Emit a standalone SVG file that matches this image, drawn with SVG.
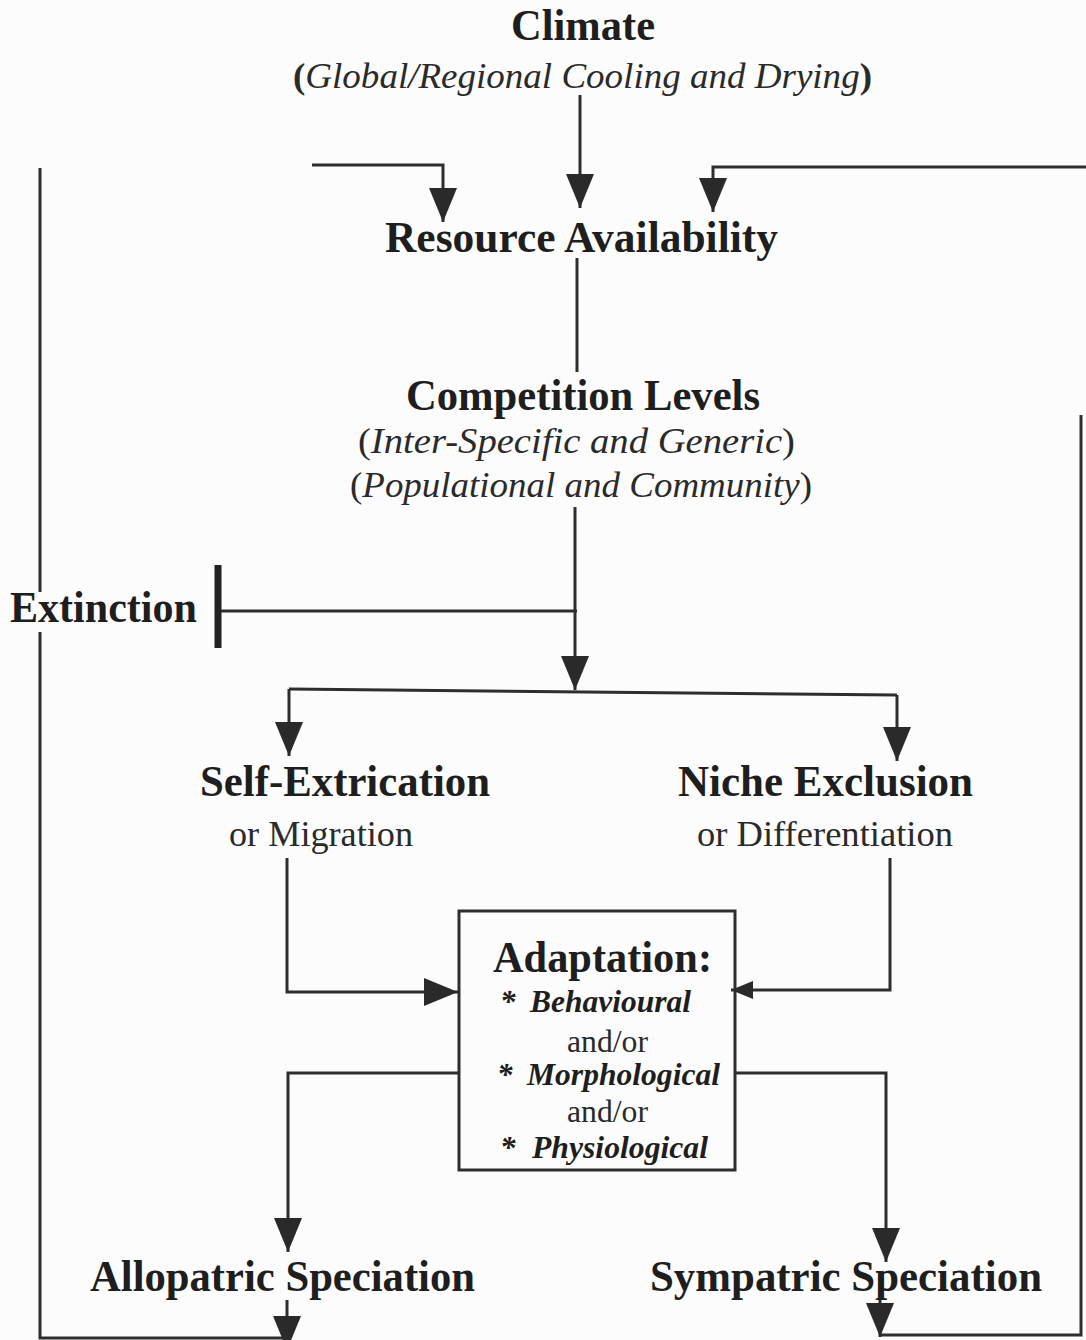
<svg xmlns="http://www.w3.org/2000/svg" width="1086" height="1340" viewBox="0 0 1086 1340">
<defs>
<style>
.b{font-family:"Liberation Serif","Times New Roman",serif;font-weight:bold;font-size:44px;fill:#1e1e1e}
.i{font-family:"Liberation Serif","Times New Roman",serif;font-style:italic;font-size:36px;fill:#2a2a2a}
.r{font-family:"Liberation Serif","Times New Roman",serif;font-size:36px;fill:#2a2a2a}
.bi{font-family:"Liberation Serif","Times New Roman",serif;font-weight:bold;font-style:italic;font-size:31px;fill:#1e1e1e}
.s{font-family:"Liberation Serif","Times New Roman",serif;font-size:31px;fill:#2a2a2a}
.c{fill:none;stroke:#2e2e2e;stroke-width:3}
.a{marker-end:url(#ah)}
</style>
<marker id="ah" markerUnits="userSpaceOnUse" markerWidth="34" markerHeight="30" viewBox="0 0 34 30" refX="34" refY="15" orient="auto">
<path d="M0,1 L34,15 L0,29 z" fill="#2a2a2a"/>
</marker>
<marker id="ahs" markerUnits="userSpaceOnUse" markerWidth="22" markerHeight="20" viewBox="0 0 22 20" refX="22" refY="10" orient="auto">
<path d="M0,1 L22,10 L0,19 z" fill="#2a2a2a"/>
</marker>
</defs>
<rect width="1086" height="1340" fill="#fcfcfc"/>

<g id="connectors">
<path class="c a" d="M580,95 V208"/>
<path class="c a" d="M312,165 H443 V222"/>
<path class="c a" d="M1086,167 H713 V212"/>
<path class="c" d="M40,168 V592 M40,632 V1338 H287"/>
<path class="c" d="M1081,415 V1335 H880"/>
<path class="c" d="M577,258 V372"/>
<path class="c a" d="M575,507 V690"/>
<path class="c" d="M577,611 H218"/>
<path d="M218,565 V648" stroke="#222" stroke-width="7" fill="none"/>
<path class="c" d="M289,689 L897,695"/>
<path class="c a" d="M289,689 V756"/>
<path class="c a" d="M897,695 V761"/>
<path class="c a" d="M287,858 V992 H458"/>
<path class="c" d="M890,858 V990 H750"/>
<path class="c" d="M752,990 H731" marker-end="url(#ahs)"/>
<path class="c a" d="M459,1073 H288 V1252"/>
<path class="c a" d="M735,1073 H886 V1262"/>
<path class="c a" d="M287,1300 V1350"/>
<path class="c a" d="M880,1300 V1337"/>
</g>

<g id="climate">
<text class="b" x="511" y="40" textLength="144" lengthAdjust="spacingAndGlyphs">Climate</text>
<text class="i" x="293" y="88" textLength="579" lengthAdjust="spacingAndGlyphs"><tspan font-style="normal" font-weight="bold">(</tspan>Global/Regional Cooling and Drying<tspan font-style="normal" font-weight="bold">)</tspan></text>
</g>

<g id="resource">
<text class="b" x="385" y="252" textLength="393" lengthAdjust="spacingAndGlyphs">Resource Availability</text>
</g>

<g id="competition">
<text class="b" x="406" y="410" textLength="354" lengthAdjust="spacingAndGlyphs">Competition Levels</text>
<text class="i" x="358" y="453" textLength="437" lengthAdjust="spacingAndGlyphs"><tspan font-style="normal">(</tspan>Inter-Specific and Generic<tspan font-style="normal">)</tspan></text>
<text class="i" x="350" y="497" textLength="462" lengthAdjust="spacingAndGlyphs"><tspan font-style="normal">(</tspan>Populational and Community<tspan font-style="normal">)</tspan></text>
</g>

<g id="extinction">
<text class="b" x="10" y="622" textLength="187" lengthAdjust="spacingAndGlyphs">Extinction</text>
</g>

<g id="self-extrication">
<text class="b" x="200" y="796" textLength="290" lengthAdjust="spacingAndGlyphs">Self-Extrication</text>
<text class="r" x="229" y="846" textLength="184" lengthAdjust="spacingAndGlyphs">or Migration</text>
</g>

<g id="niche-exclusion">
<text class="b" x="678" y="796" textLength="295" lengthAdjust="spacingAndGlyphs">Niche Exclusion</text>
<text class="r" x="697" y="846" textLength="256" lengthAdjust="spacingAndGlyphs">or Differentiation</text>
</g>

<g id="adaptation">
<rect x="459" y="911" width="276" height="259" fill="none" stroke="#2e2e2e" stroke-width="3"/>
<text class="b" x="493" y="972" textLength="219" lengthAdjust="spacingAndGlyphs">Adaptation:</text>
<text class="bi" x="500" y="1012" font-style="normal">*</text>
<text class="bi" x="530" y="1012" textLength="161" lengthAdjust="spacingAndGlyphs">Behavioural</text>
<text class="s" x="567" y="1052" textLength="81" lengthAdjust="spacingAndGlyphs">and/or</text>
<text class="bi" x="497" y="1085" font-style="normal">*</text>
<text class="bi" x="527" y="1085" textLength="193" lengthAdjust="spacingAndGlyphs">Morphological</text>
<text class="s" x="567" y="1122" textLength="81" lengthAdjust="spacingAndGlyphs">and/or</text>
<text class="bi" x="500" y="1158" font-style="normal">*</text>
<text class="bi" x="532" y="1158" textLength="176" lengthAdjust="spacingAndGlyphs">Physiological</text>
</g>

<g id="allopatric">
<text class="b" x="90" y="1291" textLength="385" lengthAdjust="spacingAndGlyphs">Allopatric Speciation</text>
</g>

<g id="sympatric">
<text class="b" x="650" y="1291" textLength="392" lengthAdjust="spacingAndGlyphs">Sympatric Speciation</text>
</g>
</svg>
